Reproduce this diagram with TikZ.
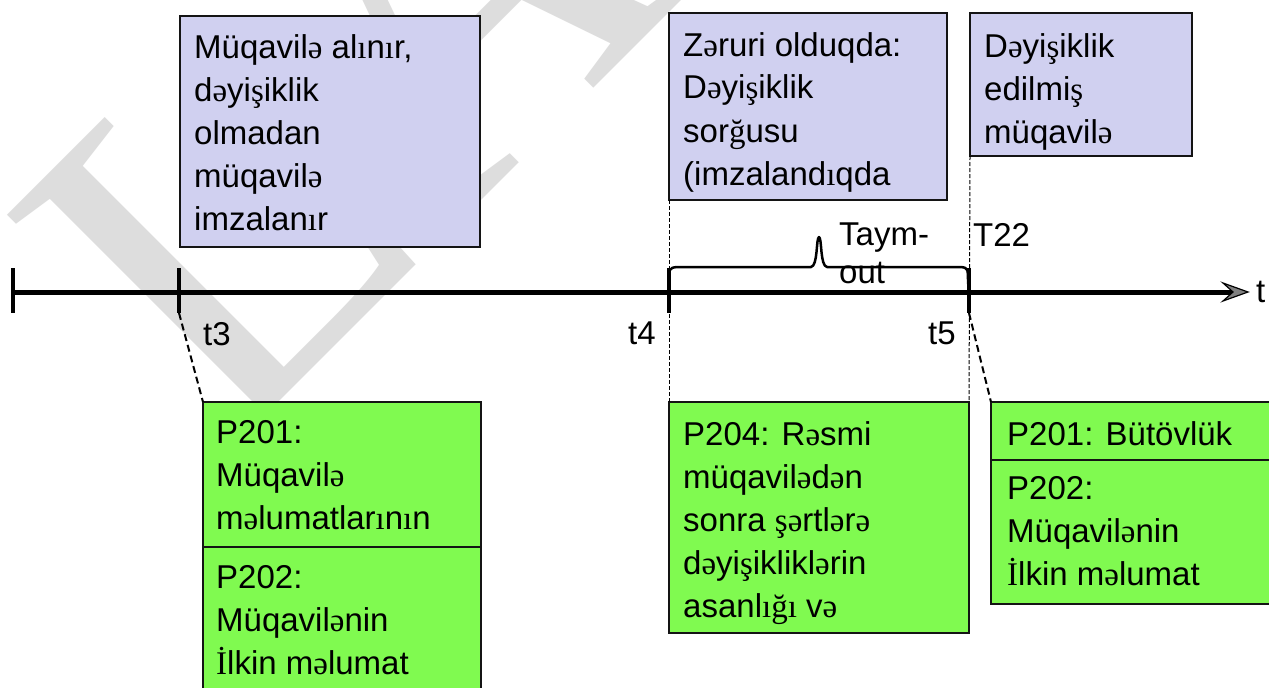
\documentclass[tikz,border=0pt]{standalone}
\usepackage{fontspec}
\setmainfont{Liberation Sans}
\newfontfamily\azserif{Liberation Serif}
\usetikzlibrary{arrows.meta}
% letters that are set in the serif fallback face
\newcommand\az[1]{{\azserif #1}}
\newcommand\boxfont{\fontsize{33}{43}\selectfont}
\newcommand\lines[1]{\parbox[t]{330pt}{\raggedright #1}}
\definecolor{lav}{RGB}{208,208,240}
\definecolor{grn}{RGB}{128,250,80}
\definecolor{edge}{RGB}{20,20,20}
\definecolor{wmark}{RGB}{221,221,221}

\begin{document}
\begin{tikzpicture}[x=1pt,y=-1pt,
  panel/.style={draw=edge, line width=2pt, anchor=north west, inner sep=0pt, outer sep=0pt},
  topbox/.style={panel, fill=lav},
  lowbox/.style={panel, fill=grn},
  txt/.style={anchor=base west, inner sep=0pt, font=\boxfont},
  lbl/.style={anchor=base west, inner sep=0pt, font=\fontsize{33}{38}\selectfont},
  axisline/.style={line width=5pt},
  tickmark/.style={line width=4.5pt},
  guide/.style={line width=1pt, dash pattern=on 4pt off 2pt},
  leader/.style={line width=2pt, dash pattern=on 7pt off 4pt},
]
\useasboundingbox (0,0) rectangle (1269,688);
\clip (0,0) rectangle (1269,688);
\fill[white] (0,0) rectangle (1269,688);

% background watermark
\node[rotate=45, anchor=base west, inner sep=0pt, text=wmark,
      font=\azserif\fontsize{495}{495}\selectfont] (wm) at (226,455) {LA};

% upper panels
\node[topbox, minimum width=300pt, minimum height=231pt] (b1) at (180,16) {};
\node[topbox, minimum width=278pt, minimum height=187pt] (b2) at (669,13) {};
\node[topbox, minimum width=222pt, minimum height=143pt] (b3) at (970,13) {};

% lower panels
\node[lowbox, minimum width=278pt, minimum height=145pt] (p201) at (203,402) {};
\node[lowbox, minimum width=278pt, minimum height=160pt] (p202) at (203,547) {};
\node[lowbox, minimum width=300pt, minimum height=231pt] (p204) at (669,402) {};
\node[lowbox, minimum width=310pt, minimum height=58pt]  (r201) at (991,402) {};
\node[lowbox, minimum width=310pt, minimum height=144pt] (r202) at (991,460) {};

% panel texts
\node[txt] (b1t) at (194,58) {\lines{Müqavil\az{ə} al\az{ı}n\az{ı}r,\\d\az{ə}yi\az{ş}iklik\\olmadan\\müqavil\az{ə}\\imzalan\az{ı}r}};
\node[txt] (b2t) at (683,56) {\lines{Z\az{ə}ruri olduqda:\\D\az{ə}yi\az{ş}iklik\\sor\az{ğ}usu\\(imzaland\az{ı}qda}};
\node[txt] (b3t) at (984,57) {\lines{D\az{ə}yi\az{ş}iklik\\edilmi\az{ş}\\müqavil\az{ə}}};
\node[txt] (p201t) at (216,443) {\lines{P201:\\Müqavil\az{ə}\\m\az{ə}lumatlar\az{ı}n\az{ı}n}};
\node[txt] (p202t) at (216,588) {\lines{P202:\\Müqavil\az{ə}nin\\\az{İ}lkin m\az{ə}lumat}};
\node[txt] (p204t) at (683,445) {\lines{P204: R\az{ə}smi\\müqavil\az{ə}d\az{ə}n\\sonra \az{ş}\az{ə}rtl\az{ə}r\az{ə}\\d\az{ə}yi\az{ş}iklikl\az{ə}rin\\asanl\az{ığı} v\az{ə}}};
\node[txt] (r201t) at (1007,445) {P201: Bütövlük};
\node[txt] (r202t) at (1007,499) {\lines{P202:\\Müqavil\az{ə}nin\\\az{İ}lkin m\az{ə}lumat}};

% time axis
\coordinate (a0) at (13,292);
\coordinate (a1) at (1232,292);
\coordinate (tip) at (1248,292);
\draw[axisline] (a0) -- (a1);
\filldraw[line width=1.2pt, fill=gray] (tip) -- (1223,283) -- (1233,292) -- (1223,301) -- cycle;

% tick marks
\coordinate (k0t) at (13,268);  \coordinate (k0b) at (13,313);
\coordinate (k3t) at (179,268); \coordinate (k3b) at (179,313);
\coordinate (k4t) at (669,268); \coordinate (k4b) at (669,313);
\coordinate (k5t) at (969,268); \coordinate (k5b) at (969,313);
\draw[tickmark] (k0t) -- (k0b);
\draw[tickmark] (k3t) -- (k3b);
\draw[tickmark] (k4t) -- (k4b);
\draw[tickmark] (k5t) -- (k5b);

% time-out brace between t4 and t5
\draw[line width=2.5pt, line join=round]
  (669,284) .. controls (669,268) .. (677,267) -- (811,267)
  .. controls (818,266) and (816,238) .. (819,237)
  .. controls (822,238) and (820,266) .. (827,267) -- (961,267)
  .. controls (968,268) .. (968,284);

% guide lines
\draw[guide] (b2.south west) -- (p204.north west);
\draw[guide] (b3.south west) -- (p204.north east);
\draw[leader] (k3b) -- (p201.north west);
\draw[leader] (k5b) -- (r201.north west);

% axis labels
\node[lbl] (t3) at (203,345) {t3};
\node[lbl] (t4) at (628,344) {t4};
\node[lbl] (t5) at (928,344) {t5};
\node[lbl] (t22) at (973,246) {T22};
\node[lbl] (tmo) at (839,245) {\parbox[t]{120pt}{Taym-\\out}};
\node[lbl] (tlab) at (1256,302) {t};
\end{tikzpicture}
\end{document}
